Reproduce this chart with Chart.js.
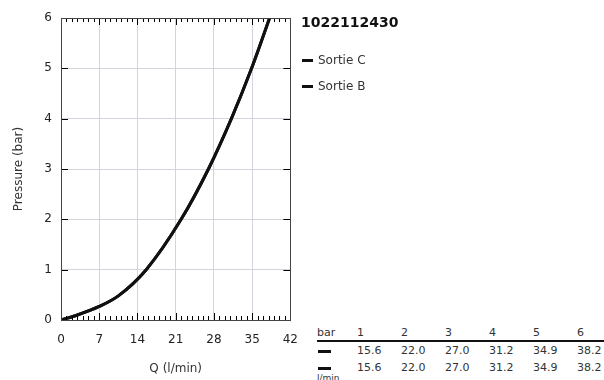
<!DOCTYPE html>
<html>
<head>
<meta charset="utf-8">
<script src="https://cdn.jsdelivr.net/npm/chart.js@4.4.0/dist/chart.umd.min.js"></script>
<style>
  body { margin: 0; background: #fff; font-family: "DejaVu Sans", sans-serif; color: #333; }
  #wrap { position: relative; width: 604px; height: 380px; overflow: hidden; }
  #plot { position: absolute; left: 0; top: 0; width: 311px; height: 380px; }
  #title { position: absolute; left: 301px; top: 14px; font-size: 14px; font-weight: bold; color: #111; }
  .leg { position: absolute; left: 302px; font-size: 12px; line-height: 14px; }
  .leg span.mk { display: inline-block; width: 11px; height: 3px; background: #111; vertical-align: middle; margin-right: 5px; }
  #table { position: absolute; left: 317px; top: 326px; width: 287px; height: 54px; font-size: 11px; color: #333; }
  #table .c { position: absolute; white-space: nowrap; }
  #table .rule { position: absolute; left: 0; top: 14px; width: 287px; height: 2px; background: #111; }
  #table .dash { position: absolute; width: 13px; height: 3px; background: #111; }
  #table .unit { position: absolute; left: 0; top: 47px; font-size: 9px; }
</style>
</head>
<body>
<div id="wrap">
  <div id="plot"><canvas id="chart"></canvas></div>
  <div id="title"></div>
  <div id="legend"></div>
  <div id="table"></div>
</div>
<script>
// Données
var chartTitle = '1022112430';
var seriesNames = ['Sortie C', 'Sortie B'];
var flowC = [0, 3, 7, 10.5, 15.6, 22.0, 27.0, 31.2, 34.9, 38.2];
var pressureC = [0, 0.1, 0.27, 0.48, 1, 2, 3, 4, 5, 6];
var flowB = [0, 3, 7, 10.5, 15.6, 22.0, 27.0, 31.2, 34.9, 38.2];
var pressureB = [0, 0.1, 0.27, 0.48, 1, 2, 3, 4, 5, 6];
var tableBars = [1, 2, 3, 4, 5, 6];
var tableFlowC = ['15.6', '22.0', '27.0', '31.2', '34.9', '38.2'];
var tableFlowB = ['15.6', '22.0', '27.0', '31.2', '34.9', '38.2'];
var xTicks = [0, 7, 14, 21, 28, 35, 42];

function toPoints(xs, ys) {
  return xs.map(function(x, i) { return { x: x, y: ys[i] }; });
}

// Cadre et graduations (style gnuplot)
var framePlugin = {
  id: 'frame',
  afterDatasetsDraw: function(chart) {
    var c = chart.ctx;
    var a = chart.chartArea;
    var sx = chart.scales.x;
    var sy = chart.scales.y;
    c.save();
    c.strokeStyle = '#000';
    c.lineWidth = 1;
    c.beginPath();
    for (var v = 0; v <= 42; v++) {
      var px = Math.round(sx.getPixelForValue(v)) + 0.5;
      var len = (v % 7 === 0) ? 7 : 4;
      c.moveTo(px, a.bottom);
      c.lineTo(px, a.bottom - len);
      c.moveTo(px, a.top);
      c.lineTo(px, a.top + len);
    }
    for (var y = 0; y <= 6; y++) {
      var py = Math.round(sy.getPixelForValue(y)) + 0.5;
      c.moveTo(a.left, py);
      c.lineTo(a.left + 7, py);
      c.moveTo(a.right, py);
      c.lineTo(a.right - 7, py);
    }
    c.stroke();
    c.strokeStyle = '#444';
    c.strokeRect(Math.round(a.left) + 0.5, Math.round(a.top) + 0.5,
      Math.round(a.right - a.left), Math.round(a.bottom - a.top));
    c.restore();
  }
};

var chart = new Chart(document.getElementById('chart'), {
  type: 'line',
  data: {
    datasets: [{
      label: seriesNames[0],
      data: toPoints(flowC, pressureC),
      borderColor: '#111',
      borderWidth: 3,
      pointRadius: 0,
      cubicInterpolationMode: 'monotone',
      fill: false
    }, {
      label: seriesNames[1],
      data: toPoints(flowB, pressureB),
      borderColor: '#111',
      borderWidth: 3,
      pointRadius: 0,
      cubicInterpolationMode: 'monotone',
      fill: false
    }]
  },
  options: {
    responsive: true,
    maintainAspectRatio: false,
    animation: false,
    layout: { padding: { top: 18, right: 0, left: 0, bottom: 0 } },
    plugins: { legend: { display: false }, tooltip: { enabled: false } },
    scales: {
      x: {
        type: 'linear',
        min: 0,
        max: 42,
        afterBuildTicks: function(scale) {
          scale.ticks = xTicks.map(function(v) { return { value: v }; });
        },
        afterFit: function(scale) { scale.height = 60; },
        grid: { color: '#d4d4dc', drawTicks: false },
        border: { display: false },
        ticks: { color: '#222', padding: 13, maxRotation: 0, font: { family: 'DejaVu Sans', size: 12 } },
        title: { display: true, text: 'Q (l/min)', color: '#333', padding: { top: 0, bottom: 4 }, font: { family: 'DejaVu Sans', size: 12 } }
      },
      y: {
        min: 0,
        max: 6,
        afterFit: function(scale) { scale.width = 61; },
        grid: { color: '#d4d4dc', drawTicks: false },
        border: { display: false },
        ticks: { stepSize: 1, color: '#222', padding: 9, font: { family: 'DejaVu Sans', size: 12 } },
        title: { display: true, text: 'Pressure (bar)', color: '#333', padding: { top: 12, bottom: 0 }, font: { family: 'DejaVu Sans', size: 12 } }
      }
    }
  },
  plugins: [framePlugin]
});

// Légende
document.getElementById('title').textContent = chartTitle;
var legend = document.getElementById('legend');
seriesNames.forEach(function(name, i) {
  var d = document.createElement('div');
  d.className = 'leg';
  d.style.top = (53 + i * 26) + 'px';
  d.innerHTML = '<span class="mk"></span>' + name;
  legend.appendChild(d);
});

// Tableau des débits
var table = document.getElementById('table');
function cell(text, left, top) {
  var el = document.createElement('div');
  el.className = 'c';
  el.style.left = left + 'px';
  el.style.top = top + 'px';
  el.textContent = text;
  table.appendChild(el);
}
cell('bar', 0, 0);
tableBars.forEach(function(b, i) { cell(String(b), 40 + i * 44, 0); });
var rule = document.createElement('div');
rule.className = 'rule';
table.appendChild(rule);
[tableFlowC, tableFlowB].forEach(function(row, r) {
  var top = 18 + r * 17;
  var dash = document.createElement('div');
  dash.className = 'dash';
  dash.style.left = '1px';
  dash.style.top = (top + 6) + 'px';
  table.appendChild(dash);
  row.forEach(function(v, i) { cell(v, 40 + i * 44, top); });
});
var unit = document.createElement('div');
unit.className = 'unit';
unit.textContent = 'l/min';
table.appendChild(unit);
</script>
</body>
</html>
